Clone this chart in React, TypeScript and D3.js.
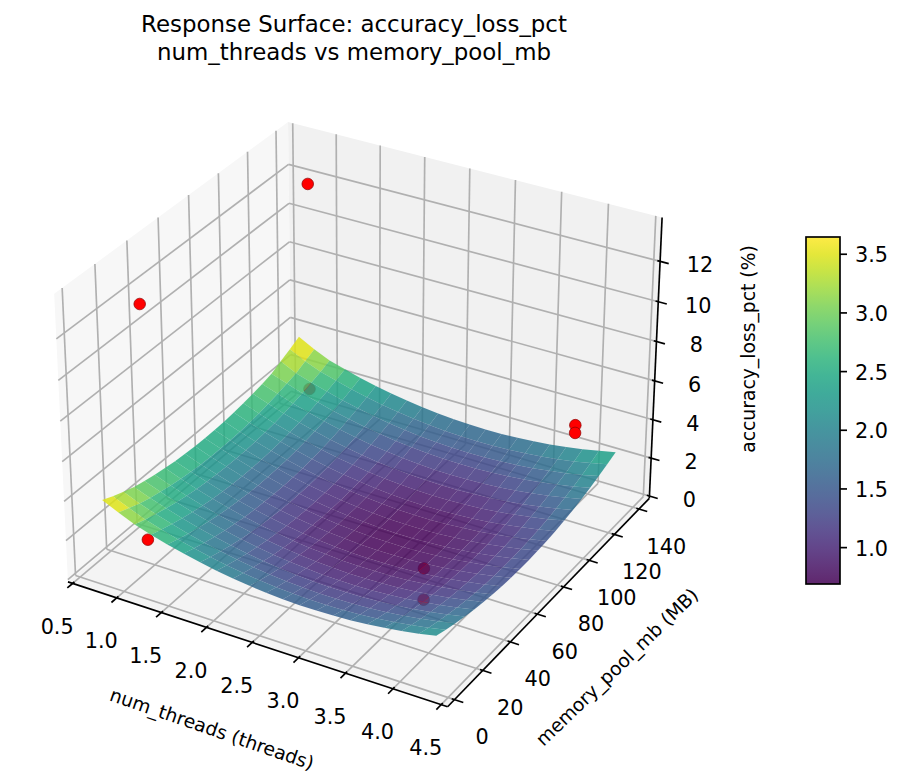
import * as d3 from "d3"

const threadTicks = [0.5, 1.0, 1.5, 2.0, 2.5, 3.0, 3.5, 4.0, 4.5]
const memoryTicks = [0, 20, 40, 60, 80, 100, 120, 140]
const lossTicks = [0, 2, 4, 6, 8, 10, 12]
const barTicks = [1.0, 1.5, 2.0, 2.5, 3.0, 3.5]

// grid of the fitted surface
const threadGrid = [0.7, 0.88, 1.06, 1.24, 1.42, 1.6, 1.78, 1.96, 2.14, 2.32, 2.5, 2.68, 2.86, 3.04, 3.22, 3.4, 3.58, 3.76, 3.94, 4.12, 4.3]
const memoryGrid = [4.8, 11.52, 18.24, 24.96, 31.68, 38.4, 45.12, 51.84, 58.56, 65.28, 72, 78.72, 85.44, 92.16, 98.88, 105.6, 112.32, 119.04, 125.76, 132.48, 139.2]
// one row per threadGrid value, one column per memoryGrid value
const lossGrid = [
  [3.8, 3.55, 3.33, 3.13, 3.0, 2.89, 2.8, 2.72, 2.67, 2.64, 2.63, 2.63, 2.66, 2.71, 2.78, 2.86, 2.97, 3.1, 3.35, 3.58, 3.85],
  [3.42, 3.2, 2.98, 2.83, 2.7, 2.59, 2.49, 2.42, 2.37, 2.34, 2.33, 2.34, 2.36, 2.41, 2.48, 2.57, 2.68, 2.81, 2.95, 3.18, 3.42],
  [3.07, 2.87, 2.7, 2.55, 2.42, 2.31, 2.22, 2.15, 2.1, 2.07, 2.06, 2.06, 2.09, 2.14, 2.21, 2.3, 2.41, 2.54, 2.69, 2.86, 3.05],
  [2.81, 2.62, 2.45, 2.3, 2.17, 2.06, 1.97, 1.9, 1.85, 1.82, 1.81, 1.82, 1.85, 1.9, 1.97, 2.06, 2.17, 2.3, 2.45, 2.62, 2.81],
  [2.58, 2.39, 2.22, 2.07, 1.94, 1.83, 1.74, 1.67, 1.62, 1.59, 1.59, 1.6, 1.63, 1.68, 1.75, 1.84, 1.95, 2.08, 2.23, 2.4, 2.59],
  [2.38, 2.19, 2.02, 1.87, 1.74, 1.63, 1.54, 1.47, 1.43, 1.4, 1.39, 1.4, 1.43, 1.48, 1.55, 1.64, 1.76, 1.89, 2.04, 2.21, 2.4],
  [2.2, 2.01, 1.84, 1.69, 1.56, 1.46, 1.37, 1.3, 1.25, 1.22, 1.22, 1.23, 1.26, 1.31, 1.38, 1.48, 1.59, 1.72, 1.87, 2.04, 2.24],
  [2.04, 1.85, 1.69, 1.54, 1.41, 1.3, 1.22, 1.15, 1.1, 1.07, 1.07, 1.08, 1.11, 1.17, 1.24, 1.33, 1.44, 1.58, 1.73, 1.9, 2.1],
  [1.91, 1.72, 1.56, 1.41, 1.28, 1.18, 1.09, 1.02, 0.98, 0.95, 0.95, 0.96, 0.99, 1.05, 1.12, 1.21, 1.33, 1.46, 1.61, 1.79, 1.98],
  [1.81, 1.62, 1.45, 1.31, 1.18, 1.08, 0.99, 0.92, 0.88, 0.85, 0.85, 0.86, 0.9, 0.95, 1.02, 1.12, 1.23, 1.37, 1.52, 1.7, 1.89],
  [1.73, 1.54, 1.38, 1.23, 1.11, 1.0, 0.92, 0.85, 0.81, 0.78, 0.78, 0.79, 0.83, 0.88, 0.96, 1.05, 1.17, 1.3, 1.46, 1.63, 1.83],
  [1.67, 1.49, 1.32, 1.18, 1.05, 0.95, 0.86, 0.8, 0.76, 0.73, 0.73, 0.74, 0.78, 0.83, 0.91, 1.01, 1.12, 1.26, 1.41, 1.59, 1.79],
  [1.64, 1.46, 1.29, 1.15, 1.03, 0.92, 0.84, 0.78, 0.73, 0.71, 0.71, 0.72, 0.76, 0.81, 0.89, 0.99, 1.1, 1.24, 1.4, 1.57, 1.77],
  [1.64, 1.45, 1.29, 1.15, 1.02, 0.92, 0.84, 0.78, 0.73, 0.71, 0.71, 0.72, 0.76, 0.82, 0.9, 0.99, 1.11, 1.25, 1.41, 1.58, 1.78],
  [1.66, 1.47, 1.31, 1.17, 1.05, 0.95, 0.86, 0.8, 0.76, 0.74, 0.74, 0.75, 0.79, 0.85, 0.93, 1.03, 1.14, 1.28, 1.44, 1.62, 1.82],
  [1.7, 1.52, 1.36, 1.22, 1.1, 0.99, 0.91, 0.85, 0.81, 0.79, 0.79, 0.81, 0.85, 0.9, 0.98, 1.08, 1.2, 1.34, 1.5, 1.68, 1.88],
  [1.77, 1.59, 1.43, 1.29, 1.17, 1.07, 0.99, 0.93, 0.89, 0.87, 0.87, 0.88, 0.92, 0.98, 1.06, 1.16, 1.28, 1.42, 1.58, 1.76, 1.96],
  [1.87, 1.69, 1.53, 1.39, 1.27, 1.17, 1.09, 1.03, 0.99, 0.97, 0.97, 0.99, 1.03, 1.09, 1.17, 1.27, 1.39, 1.53, 1.69, 1.87, 2.07],
  [1.99, 1.81, 1.65, 1.51, 1.39, 1.29, 1.21, 1.15, 1.11, 1.09, 1.1, 1.12, 1.16, 1.22, 1.3, 1.4, 1.52, 1.66, 1.82, 2.0, 2.21],
  [2.13, 1.95, 1.79, 1.66, 1.54, 1.44, 1.36, 1.3, 1.26, 1.25, 1.25, 1.27, 1.31, 1.37, 1.45, 1.56, 1.68, 1.82, 1.98, 2.16, 2.37],
  [2.3, 2.12, 1.97, 1.83, 1.71, 1.61, 1.54, 1.48, 1.44, 1.42, 1.43, 1.45, 1.49, 1.55, 1.64, 1.74, 1.86, 2.0, 2.17, 2.35, 2.55],
]

const sampleThreads = [1, 1, 1, 1, 4, 4, 4, 4]
const sampleMemory = [16, 16, 128, 128, 16, 16, 128, 128]
const sampleLoss = [1.45, 13.15, 12.75, 2.13, 4.4, 2.85, 4.25, 3.85]

const F = "'DejaVu Sans'"
const GRID = "#b0b0b0"

const xLim: [number, number] = [0.446, 4.566]
const yLim: [number, number] = [-4.8, 148.6]
const zLim: [number, number] = [-0.12, 14.15]
const lossMin = 0.69, lossMax = 3.647

// matplotlib's default 3d box, elev 30 azim -60
const A = 0.595, B = 0.446
const xs = d3.scaleLinear().domain(xLim).range([-A, A])
const ys = d3.scaleLinear().domain(yLim).range([-A, A])
const zs = d3.scaleLinear().domain(zLim).range([-B, B])
const sx = d3.scaleLinear().domain([0, 1]).range([364, 364 + 3655])
const sy = d3.scaleLinear().domain([0, 1]).range([400.3, 400.3 - 3680])

function view(x: number, y: number, z: number) {
  const dx = xs(x), dy = ys(y), dz = zs(z)
  const u = 0.866 * dx + 0.5 * dy
  const v = -0.25 * dx + 0.433 * dy + 0.866 * dz
  const w = 0.433 * dx - 0.75 * dy + 0.5 * dz
  return { u, v, w }
}
function project(x: number, y: number, z: number): [number, number] {
  const { u, v, w } = view(x, y, z)
  return [sx(u / (10 - w)), sy(v / (10 - w))]
}
const poly = (pts: [number, number, number][]) =>
  pts.map(p => project(p[0], p[1], p[2]).map(n => n.toFixed(2)).join(",")).join(" ")

const color = d3.scaleSequential(d3.interpolateViridis).domain([lossMin, lossMax])
const [x0, x1] = xLim, [y0, y1] = yLim, [z0, z1] = zLim

const facets: { pts: string; fill: string; depth: number }[] = []
for (let i = 0; i < threadGrid.length - 1; i++) {
  for (let j = 0; j < memoryGrid.length - 1; j++) {
    const a = threadGrid[i], b = threadGrid[i + 1], c = memoryGrid[j], d = memoryGrid[j + 1]
    const m = d3.mean([lossGrid[i][j], lossGrid[i + 1][j], lossGrid[i + 1][j + 1], lossGrid[i][j + 1]])!
    facets.push({
      pts: poly([[a, c, lossGrid[i][j]], [b, c, lossGrid[i + 1][j]], [b, d, lossGrid[i + 1][j + 1]], [a, d, lossGrid[i][j + 1]]]),
      fill: color(m),
      depth: view((a + b) / 2, (c + d) / 2, m).w,
    })
  }
}
facets.sort((p, q) => p.depth - q.depth)

function Seg({ a, b, stroke = GRID, w = 1.67 }: { a: [number, number, number]; b: [number, number, number]; stroke?: string; w?: number }) {
  const p = project(a[0], a[1], a[2]), q = project(b[0], b[1], b[2])
  return <line x1={p[0]} y1={p[1]} x2={q[0]} y2={q[1]} stroke={stroke} strokeWidth={w} />
}

const barY = d3.scaleLinear().domain([lossMin, lossMax]).range([584, 237])
const xd = x1 - x0, yd = y1 - y0
const tickIn = 0.007, tickOut = 0.022

export default function App() {
  return (
    <svg width={902} height={775} style={{ position: "absolute", left: 0, top: 0 }} fontFamily={F}>
      <defs>
        <linearGradient id="bar" x1="0" y1="1" x2="0" y2="0">
          {d3.range(0, 1.001, 0.05).map(t => <stop key={t} offset={t} stopColor={d3.interpolateViridis(t)} />)}
        </linearGradient>
      </defs>
      <text x={354} y={32} textAnchor="middle" fontSize={22.9}>Response Surface: accuracy_loss_pct</text>
      <text x={354} y={60} textAnchor="middle" fontSize={22.9}>num_threads vs memory_pool_mb</text>

      <polygon points={poly([[x0, y0, z0], [x0, y1, z0], [x0, y1, z1], [x0, y0, z1]])} fill="#f7f7f7" />
      <polygon points={poly([[x0, y1, z0], [x1, y1, z0], [x1, y1, z1], [x0, y1, z1]])} fill="#f1f1f1" />
      <polygon points={poly([[x0, y0, z0], [x1, y0, z0], [x1, y1, z0], [x0, y1, z0]])} fill="#f4f4f4" />

      {threadTicks.map(t => (
        <g key={t}>
          <Seg a={[t, y0, z0]} b={[t, y1, z0]} />
          <Seg a={[t, y1, z0]} b={[t, y1, z1]} />
        </g>
      ))}
      {memoryTicks.map(t => (
        <g key={t}>
          <Seg a={[x1, t, z0]} b={[x0, t, z0]} />
          <Seg a={[x0, t, z0]} b={[x0, t, z1]} />
        </g>
      ))}
      {lossTicks.map(t => (
        <g key={t}>
          <Seg a={[x0, y0, t]} b={[x0, y1, t]} />
          <Seg a={[x0, y1, t]} b={[x1, y1, t]} />
        </g>
      ))}

      <Seg a={[x0, y0, z0]} b={[x1, y0, z0]} stroke="#000" />
      <Seg a={[x1, y0, z0]} b={[x1, y1, z0]} stroke="#000" />
      <Seg a={[x1, y1, z0]} b={[x1, y1, z1]} stroke="#000" />

      {threadTicks.map(t => {
        const p = project(t, y0, z0)
        return (
          <g key={t}>
            <Seg a={[t, y0 + yd * tickIn, z0]} b={[t, y0 - yd * tickOut, z0]} stroke="#000" />
            <text x={p[0] - 15.5} y={p[1] + 50.5} textAnchor="middle" fontSize={20.8}>{t.toFixed(1)}</text>
          </g>
        )
      })}
      {memoryTicks.map(t => {
        const p = project(x1, t, z0)
        return (
          <g key={t}>
            <Seg a={[x1 - xd * tickIn, t, z0]} b={[x1 + xd * tickOut, t, z0]} stroke="#000" />
            <text x={p[0] + 27.5} y={p[1] + 44.5} textAnchor="middle" fontSize={20.8}>{t}</text>
          </g>
        )
      })}
      {lossTicks.map(t => {
        const p = project(x1, y1, t)
        return (
          <g key={t}>
            <Seg a={[x1 - xd * tickIn, y1, t]} b={[x1 + xd * tickOut, y1, t]} stroke="#000" />
            <text x={p[0] + 40} y={p[1] + 10.8} textAnchor="middle" fontSize={20.8}>{t}</text>
          </g>
        )
      })}

      {sampleThreads.map((t, i) => {
        const p = project(t, sampleMemory[i], sampleLoss[i])
        return <circle key={i} cx={p[0]} cy={p[1]} r={5.8} fill="#ff0000" stroke="#8b0000" strokeWidth={0.7} />
      })}

      {facets.map((f, i) => <polygon key={i} points={f.pts} fill={f.fill} fillOpacity={0.85} />)}

      <text transform="translate(212,729) rotate(19)" textAnchor="middle" dominantBaseline="central" fontSize={18.75}>num_threads (threads)</text>
      <text transform="translate(617,667) rotate(-44)" textAnchor="middle" dominantBaseline="central" fontSize={18.75}>memory_pool_mb (MB)</text>
      <text transform="translate(748,349) rotate(-90)" textAnchor="middle" dominantBaseline="central" fontSize={18.75}>accuracy_loss_pct (%)</text>

      <rect x={806} y={237} width={34} height={347} fill="url(#bar)" fillOpacity={0.85} stroke="none" />
      <rect x={806} y={237} width={34} height={347} fill="none" stroke="#000" strokeWidth={1.67} />
      {barTicks.map(t => (
        <g key={t}>
          <line x1={840} x2={847} y1={barY(t)} y2={barY(t)} stroke="#000" strokeWidth={1.67} />
          <text x={855} y={barY(t) + 8} fontSize={20.8}>{t.toFixed(1)}</text>
        </g>
      ))}
    </svg>
  )
}
